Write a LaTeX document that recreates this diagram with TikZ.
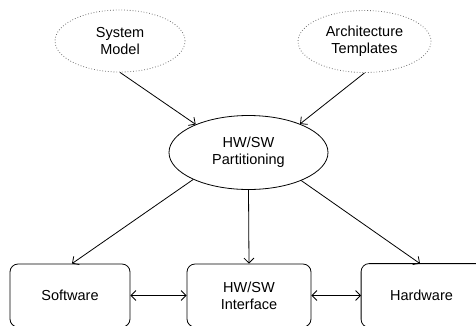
\documentclass[tikz,border=0pt]{standalone}
\usepackage{fontspec}
\setmainfont{Liberation Sans}
\usetikzlibrary{shapes.geometric,arrows.meta}
\tikzset{
  srcell/.style={ellipse, draw=black!55, dotted, line width=0.8pt, minimum width=130pt, minimum height=62pt, inner sep=0pt, align=center, font=\fontsize{14.5}{17}\selectfont},
  partell/.style={ellipse, draw=black, line width=0.8pt, minimum width=159pt, minimum height=74pt, inner sep=0pt, align=center, font=\fontsize{14.5}{17}\selectfont},
  blockbox/.style={draw=black, rounded corners=8pt, line width=0.8pt, minimum width=120pt, minimum height=63pt, inner sep=0pt, align=center, font=\fontsize{14.5}{17}\selectfont},
  conn/.style={line width=0.8pt, -{Straight Barb[length=5pt,width=10pt]}},
  bconn/.style={line width=0.8pt, {Straight Barb[length=5pt,width=10pt]}-{Straight Barb[length=5pt,width=10pt]}}
}
\begin{document}
\begin{tikzpicture}[x=1pt,y=-1pt]
\useasboundingbox (0,0) rectangle (476,325);
\clip (0,0) rectangle (476,325);
\node[srcell] (sm) at (120,41) {System\\Model};
\node[srcell, minimum width=133pt] (at) at (364.5,41.5) {Architecture\\Templates};
\node[partell] (pt) at (248.5,152.5) {HW/SW\\Partitioning};
\node[blockbox] (sw) at (70,295.5) {Software};
\node[blockbox, minimum width=124pt] (hi) at (249,295.5) {HW/SW\\Interface};
\node[blockbox, draw=none] (hw) at (421.5,295.5) {Hardware};
\draw[line width=0.8pt, rounded corners=8pt] (hw.north west) rectangle ([xshift=15pt]hw.south east);
\draw[conn] (sm.south) -- (pt.152);
\draw[conn] (at.south) -- (pt.29);
\draw[conn] (pt.206) -- ([xshift=2pt]sw.north);
\draw[conn] (pt.south) -- (hi.north);
\draw[conn] (pt.332) -- ([xshift=-1.5pt]hw.north);
\draw[bconn] (sw.east) -- (hi.west);
\draw[bconn] (hi.east) -- (hw.west);
\end{tikzpicture}
\end{document}
